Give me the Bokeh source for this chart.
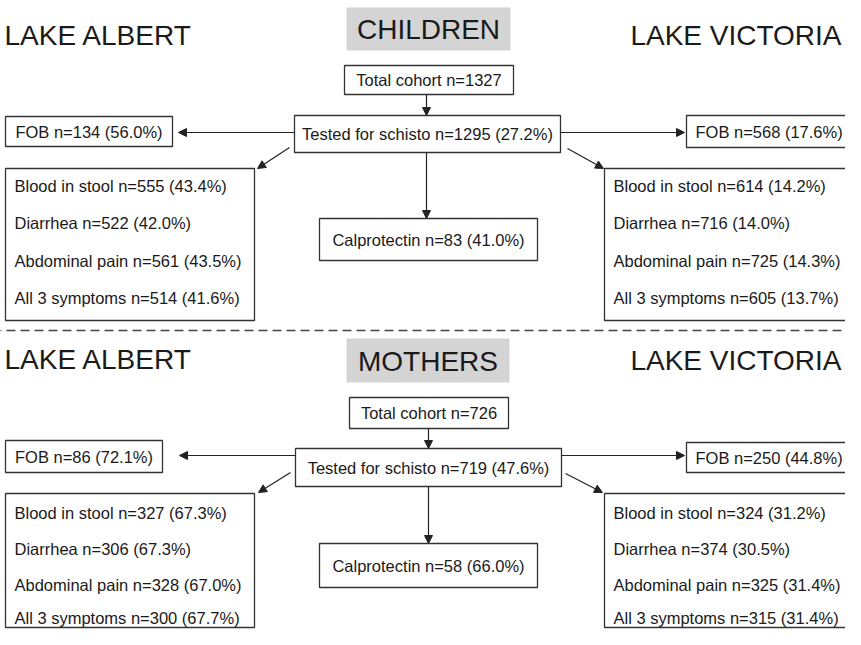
from bokeh.plotting import figure
from bokeh.models import Range1d, ColumnDataSource, Arrow, NormalHead
from bokeh.core.properties import value
from bokeh.embed import file_html
from bokeh.resources import INLINE

# ---------------- data ----------------
groups = ["CHILDREN", "MOTHERS"]
lakes = ["LAKE ALBERT", "LAKE VICTORIA"]
symptom_names = ["Blood in stool", "Diarrhea", "Abdominal pain", "All 3 symptoms"]

total_n = [1327, 726]
tested_n = [1295, 719]
tested_pct = [27.2, 47.6]
fob_albert_n = [134, 86]
fob_albert_pct = [56.0, 72.1]
fob_victoria_n = [568, 250]
fob_victoria_pct = [17.6, 44.8]
calpro_n = [83, 58]
calpro_pct = [41.0, 66.0]
albert_sym_n = [[555, 522, 561, 514], [327, 306, 328, 300]]
albert_sym_pct = [[43.4, 42.0, 43.5, 41.6], [67.3, 67.3, 67.0, 67.7]]
victoria_sym_n = [[614, 716, 725, 605], [324, 374, 325, 315]]
victoria_sym_pct = [[14.2, 14.0, 14.3, 13.7], [31.2, 30.5, 31.4, 31.4]]

# ---------------- layout (pixel coordinates, y downward) ----------------
layouts = [
    dict(titleL_y=35, titleR_y=35, group_y=29, gbox=(354, 518, 7, 50),
         total=(352, 521, 65, 94), tested=(302, 568, 115, 152),
         fobL=(13, 180, 116, 146), fobR=(694, 866, 115, 147),
         symL=(13, 262, 168, 320), symR=(612, 866, 168, 320),
         calp=(327, 545, 218, 260), lines=[185, 222, 260, 297],
         arrows=[(434, 94, 434, 115), (302, 132, 186, 132), (568, 132, 692, 132),
                 (297, 147, 265, 168), (575, 148, 611, 168), (434, 152, 434, 218)]),
    dict(titleL_y=359, titleR_y=360, group_y=361, gbox=(354, 517, 338, 382),
         total=(357, 516, 397, 428), tested=(303, 569, 448, 486),
         fobL=(13, 170, 440, 472), fobR=(694, 866, 442, 472),
         symL=(13, 262, 493, 627), symR=(612, 866, 493, 627),
         calp=(327, 545, 543, 587), lines=[512, 548, 584, 617],
         arrows=[(436, 428, 436, 448), (303, 455, 187, 455), (569, 455, 692, 455),
                 (298, 472, 266, 492), (573, 473, 610, 492), (436, 486, 436, 543)]),
]
divider_y = 330

FONT = "Liberation Sans"
INK = "#1a1a1a"
EDGE = "#333333"

p = figure(width=845, height=629, output_backend="svg", toolbar_location=None,
           x_range=Range1d(8, 853), y_range=Range1d(629, 0),
           min_border=0, outline_line_color=None)
p.xaxis.visible = False
p.yaxis.visible = False
p.grid.visible = False
p.background_fill_color = "white"
p.border_fill_color = "white"

def pct(v):
    return f"{v:.1f}%"

for gi, L in enumerate(layouts):
    # grey header box
    gl, gr, gt, gb = L["gbox"]
    p.quad(left=[gl], right=[gr], top=[gt], bottom=[gb], fill_color="#d4d4d4", line_color=None)
    p.text(x=[(gl + gr) / 2], y=[L["group_y"]], text=[groups[gi]], text_font=value(FONT),
           text_font_size="28px", text_align="center", text_baseline="middle", text_color=INK)
    p.text(x=[12], y=[L["titleL_y"]], text=[lakes[0]], text_font=value(FONT),
           text_font_size="28px", text_align="left", text_baseline="middle", text_color=INK)
    p.text(x=[849], y=[L["titleR_y"]], text=[lakes[1]], text_font=value(FONT),
           text_font_size="28px", text_align="right", text_baseline="middle", text_color=INK)

    boxes = [L["total"], L["tested"], L["fobL"], L["fobR"], L["symL"], L["symR"], L["calp"]]
    p.quad(left=[b[0] for b in boxes], right=[b[1] for b in boxes],
           top=[b[2] for b in boxes], bottom=[b[3] for b in boxes],
           fill_color="white", line_color=EDGE, line_width=1.3)

    centred = [
        (L["total"], f"Total cohort n={total_n[gi]}"),
        (L["tested"], f"Tested for schisto n={tested_n[gi]} ({pct(tested_pct[gi])})"),
        (L["fobL"], f"FOB n={fob_albert_n[gi]} ({pct(fob_albert_pct[gi])})"),
        (L["calp"], f"Calprotectin n={calpro_n[gi]} ({pct(calpro_pct[gi])})"),
    ]
    p.text(x=[(b[0] + b[1]) / 2 for b, _ in centred], y=[(b[2] + b[3]) / 2 for b, _ in centred],
           text=[t for _, t in centred], text_font=value(FONT), text_font_size="16.5px",
           text_align="center", text_baseline="middle", text_color=INK)
    fr = L["fobR"]
    p.text(x=[fr[0] + 9], y=[(fr[2] + fr[3]) / 2],
           text=[f"FOB n={fob_victoria_n[gi]} ({pct(fob_victoria_pct[gi])})"],
           text_font=value(FONT), text_font_size="16.5px", text_align="left",
           text_baseline="middle", text_color=INK)

    for box, ns, ps in [(L["symL"], albert_sym_n[gi], albert_sym_pct[gi]),
                        (L["symR"], victoria_sym_n[gi], victoria_sym_pct[gi])]:
        p.text(x=[box[0] + 9] * 4, y=L["lines"],
               text=[f"{nm} n={n} ({pct(v)})" for nm, n, v in zip(symptom_names, ns, ps)],
               text_font=value(FONT), text_font_size="16.5px", text_align="left",
               text_baseline="middle", text_color=INK)

    a = L["arrows"]
    src = ColumnDataSource(dict(x0=[r[0] for r in a], y0=[r[1] for r in a],
                                x1=[r[2] for r in a], y1=[r[3] for r in a]))
    p.add_layout(Arrow(end=NormalHead(size=8, fill_color="#222222", line_color="#222222", line_width=1),
                       x_start="x0", y_start="y0", x_end="x1", y_end="y1", source=src,
                       line_color="#222222", line_width=1.2))

p.line(x=[0, 861], y=[divider_y, divider_y], line_color="#444444", line_width=1.3, line_dash="9 5")

open("out.html", "w").write(file_html(p, INLINE))
